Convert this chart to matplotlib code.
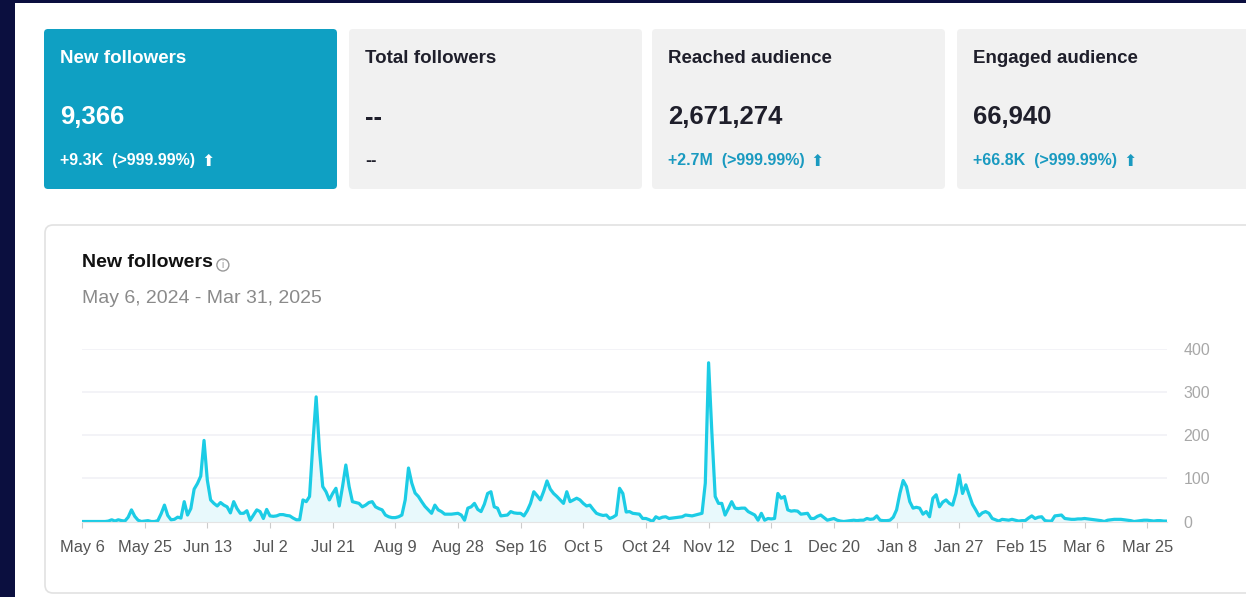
import matplotlib
matplotlib.use("Agg")
import matplotlib.pyplot as plt
import pandas as pd
from matplotlib.patches import FancyBboxPatch, Rectangle, Circle

# daily new followers (May 6, 2024 - Mar 31, 2025)
new_followers = [
    0, 0, 0, 0, 0, 0, 0, 0, 1, 4,
    1, 4, 2, 1, 10, 27, 12, 3, 0, 1,
    2, 0, 0, 2, 18, 38, 14, 4, 5, 10,
    8, 46, 15, 30, 75, 88, 105, 188, 96, 50,
    42, 36, 44, 38, 34, 20, 46, 30, 19, 19,
    25, 3, 15, 27, 23, 7, 28, 13, 12, 13,
    16, 16, 14, 13, 8, 4, 4, 50, 46, 58,
    180, 289, 166, 81, 69, 50, 65, 77, 36, 81,
    131, 81, 46, 44, 42, 34, 38, 44, 46, 34,
    30, 27, 15, 11, 9, 9, 11, 15, 50, 124,
    89, 66, 58, 46, 35, 27, 19, 38, 27, 23,
    17, 17, 17, 18, 19, 15, 3, 31, 34, 42,
    28, 23, 40, 65, 69, 34, 31, 13, 14, 15,
    23, 20, 19, 19, 13, 25, 42, 69, 60, 50,
    70, 94, 75, 65, 58, 50, 42, 69, 46, 50,
    54, 50, 42, 36, 38, 28, 19, 16, 14, 15,
    7, 10, 15, 77, 65, 22, 23, 19, 18, 17,
    7, 7, 4, 0, 11, 7, 10, 11, 7, 8,
    9, 10, 11, 15, 14, 13, 15, 17, 19, 89,
    368, 205, 58, 42, 42, 15, 30, 46, 31, 30,
    31, 31, 23, 19, 15, 3, 19, 3, 7, 6,
    7, 65, 54, 58, 27, 24, 25, 24, 17, 18,
    19, 7, 7, 12, 15, 9, 3, 5, 7, 3,
    1, 0, 1, 2, 3, 2, 3, 3, 7, 5,
    6, 13, 3, 2, 2, 3, 10, 27, 65, 95,
    81, 46, 31, 33, 31, 17, 23, 11, 54, 62,
    34, 45, 50, 42, 38, 65, 108, 65, 85, 62,
    40, 27, 13, 20, 23, 19, 7, 4, 1, 5,
    4, 3, 5, 3, 1, 2, 2, 8, 13, 7,
    10, 11, 2, 1, 1, 13, 14, 15, 7, 6,
    5, 5, 6, 6, 7, 6, 5, 4, 3, 2,
    0, 3, 4, 5, 5, 5, 4, 3, 2, 0,
    1, 2, 3, 3, 2, 1, 2, 2, 1, 1,
]
start_date = "2024-05-06"
end_date = "2025-03-31"
tick_labels = ["May 6", "May 25", "Jun 13", "Jul 2", "Jul 21", "Aug 9",
               "Aug 28", "Sep 16", "Oct 5", "Oct 24", "Nov 12", "Dec 1",
               "Dec 20", "Jan 8", "Jan 27", "Feb 15", "Mar 6", "Mar 25"]
y_ticks = [0, 100, 200, 300, 400]

card_titles = ["New followers", "Total followers", "Reached audience", "Engaged audience"]
card_values = ["9,366", "--", "2,671,274", "66,940"]
card_changes = ["+9.3K  (>999.99%)", "--", "+2.7M  (>999.99%)", "+66.8K  (>999.99%)"]
card_up = [True, False, True, True]

chart_title = "New followers"
chart_range = "May 6, 2024 - Mar 31, 2025"

dates = pd.date_range(start_date, end_date)
assert len(dates) == len(new_followers)

W, H = 1246, 597
plt.rcParams['font.family'] = ['Liberation Sans', 'DejaVu Sans']
fig = plt.figure(figsize=(W / 100, H / 100), dpi=100)
fig.patch.set_facecolor('white')

# background layer in pixel coordinates
bg = fig.add_axes([0, 0, 1, 1])
bg.set_xlim(0, W)
bg.set_ylim(H, 0)
bg.axis('off')

navy = '#0B0F3F'
bg.add_patch(Rectangle((0, 0), 15, H, color=navy, lw=0))
bg.add_patch(Rectangle((0, 0), W, 3, color=navy, lw=0))

teal = '#0FA0C3'
card_x = [44, 349, 652, 957]
card_w = 293
fig.canvas.draw()
renderer = fig.canvas.get_renderer()
for i, x in enumerate(card_x):
    active = i == 0
    face = teal if active else '#F1F1F1'
    bg.add_patch(FancyBboxPatch((x, 29), card_w, 160,
                                boxstyle="round,pad=0,rounding_size=4",
                                fc=face, ec='none'))
    fg = 'white' if active else '#1F1F2B'
    bg.text(x + 16, 58.5, card_titles[i], color=fg, fontsize=13.5,
            fontweight='bold', va='center', ha='left')
    bg.text(x + 16, 117.5, card_values[i], color=fg, fontsize=18.5,
            fontweight='bold', va='center', ha='left')
    if card_up[i]:
        ch_color = 'white' if active else '#1A9AC0'
        t = bg.text(x + 16, 161, card_changes[i], color=ch_color, fontsize=11.5,
                    fontweight='bold', va='center', ha='left')
        bb = t.get_window_extent(renderer=renderer)
        bg.text(bb.x1 + 6, 161, '\u2b06', color=ch_color, fontsize=11.5,
                fontfamily='DejaVu Sans', va='center', ha='left')
    else:
        bg.text(x + 16, 161, card_changes[i], color='#1F1F2B', fontsize=10,
                fontweight='bold', fontfamily='DejaVu Sans', va='center', ha='left')

# chart card
bg.add_patch(FancyBboxPatch((45, 225), 1225, 368,
                            boxstyle="round,pad=0,rounding_size=8",
                            fc='white', ec='#E2E2E2', lw=1.2))
tt = bg.text(82, 262.5, chart_title, color='#111111', fontsize=14,
             fontweight='bold', va='center', ha='left')
tb = tt.get_window_extent(renderer=renderer)
cx = tb.x1 + 10
bg.add_patch(Circle((cx, 265), 6, fc='none', ec='#999999', lw=1))
bg.text(cx, 265.5, 'i', color='#999999', fontsize=7, ha='center', va='center')
bg.text(82, 298.5, chart_range, color='#8A8A8A', fontsize=14,
        va='center', ha='left')

# line chart
x0, x1 = 82, 1167
y0, y1 = 521.5, 349
ax = fig.add_axes([x0 / W, (H - y0) / H, (x1 - x0) / W, (y0 - y1) / H])
ax.set_facecolor('none')
line_color = '#1CCCE5'
ax.fill_between(dates, new_followers, 0, color='#E8F9FC', lw=0)
ax.plot(dates, new_followers, color=line_color, lw=2.3, solid_joinstyle='round')
ax.set_xlim(dates[0], dates[-1])
ax.set_ylim(0, 400)

ax.set_xticks(dates[::19])
ax.set_xticklabels(tick_labels)
ax.set_yticks(y_ticks)
ax.yaxis.tick_right()
ax.grid(axis='y', color='#F1F1F6', lw=1.2)
ax.set_axisbelow(True)
for s in ['top', 'left', 'right']:
    ax.spines[s].set_visible(False)
ax.spines['bottom'].set_color('#E4E4E4')
ax.tick_params(axis='x', length=4, color='#CCCCCC', labelsize=11.8,
               labelcolor='#555555', pad=9)
ax.tick_params(axis='y', length=0, labelsize=11.5, labelcolor='#A8A8A8', pad=12)

fig.savefig('out.png', dpi=100, facecolor='white')
